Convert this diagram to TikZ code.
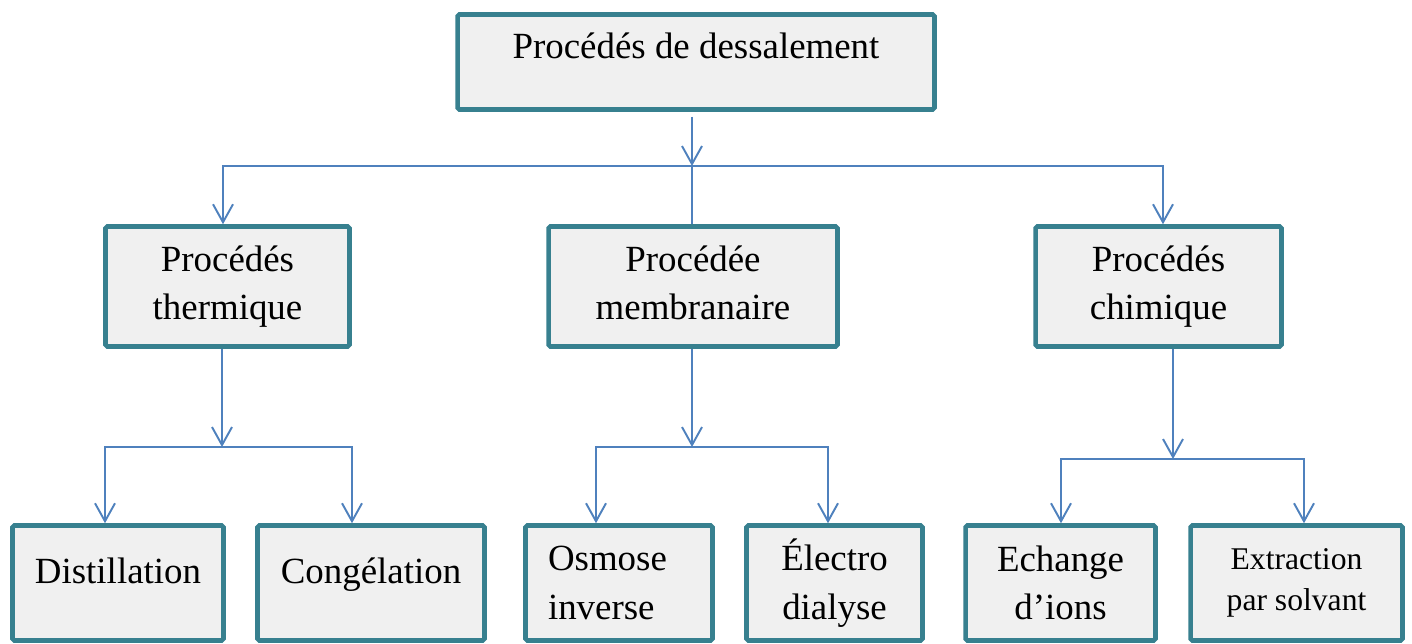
\documentclass[tikz,border=0pt]{standalone}
\usepackage{fontspec}
\setmainfont{Liberation Serif}
\usetikzlibrary{arrows.meta}
\definecolor{boxedge}{RGB}{55,128,143}
\definecolor{boxfill}{RGB}{240,240,240}
\definecolor{linkblue}{RGB}{79,129,189}

\begin{document}
\begin{tikzpicture}[x=0.02cm, y=-0.02cm, every node/.style={font=\fontsize{21}{27.5}\selectfont},
  box/.style={draw=boxedge,fill=boxfill,line width=2.6pt,rounded corners=1pt,align=center,inner sep=0pt},
  link/.style={draw=linkblue,line width=1.1pt},
  arr/.style={link,-{Straight Barb[length=0.36cm,width=0.4cm]}},
  oneline/.style={text height=14.5pt,text depth=14pt}]
  \useasboundingbox (0,0) rectangle (1412,643);
  % top
  \node[box,minimum width=9.54cm,minimum height=1.9cm,text height=14.5pt,text depth=19pt] (top) at (696,62) {Procédés de dessalement};
  % families
  \node[box,minimum width=4.88cm,minimum height=2.4cm] (therm) at (227.5,286.5) {Procédés\\thermique};
  \node[box,minimum width=5.78cm,minimum height=2.4cm] (memb) at (693,286.5) {Procédée\\membranaire\vphantom{q}};
  \node[box,minimum width=4.92cm,minimum height=2.4cm] (chim) at (1158.5,286.5) {Procédés\\chimique};
  % techniques
  \node[box,oneline,minimum width=4.22cm,minimum height=2.3cm] (dist) at (118,583) {Distillation};
  \node[box,oneline,minimum width=4.54cm,minimum height=2.3cm] (cong) at (371,583) {Congélation};
  \node[box,minimum width=3.74cm,minimum height=2.3cm,text width=2.84cm,align=left] (osm) at (619,583) {Osmose\\inverse};
  \node[box,minimum width=3.52cm,minimum height=2.3cm] (elec) at (834.5,583) {Électro\\dialyse};
  \node[box,minimum width=3.8cm,minimum height=2.3cm] (ech) at (1060.5,583) {Echange\\d’ions};
  \node[box,minimum width=4.24cm,minimum height=2.3cm,font=\fontsize{18}{23}\selectfont] (extr) at (1296.5,583) {Extraction\\par solvant};
  % junctions
  \coordinate (j0) at (692,166); \coordinate (j0l) at (223,166); \coordinate (j0r) at (1163,166);
  \coordinate (j1) at (222,447); \coordinate (j1l) at (105,447); \coordinate (j1r) at (352,447);
  \coordinate (j2) at (692,447); \coordinate (j2l) at (596,447); \coordinate (j2r) at (828,447);
  \coordinate (j3) at (1173,459); \coordinate (j3l) at (1061,459); \coordinate (j3r) at (1304,459);
  % links
  \draw[arr,shorten <=2.8pt] (top.south -| j0) -- (j0);
  \draw[arr] (j0) -| (therm.north -| j0l); \draw[arr] (j0) -| (chim.north -| j0r);
  \draw[link] (j0) -- (memb.north -| j0);
  \draw[arr] (therm.south -| j1) -- (j1);
  \draw[arr] (j1) -| (dist.north -| j1l); \draw[arr] (j1) -| (cong.north -| j1r);
  \draw[arr] (memb.south -| j2) -- (j2);
  \draw[arr] (j2) -| (osm.north -| j2l); \draw[arr] (j2) -| (elec.north -| j2r);
  \draw[arr] (chim.south -| j3) -- (j3);
  \draw[arr] (j3) -| (ech.north -| j3l); \draw[arr] (j3) -| (extr.north -| j3r);
\end{tikzpicture}
\end{document}
